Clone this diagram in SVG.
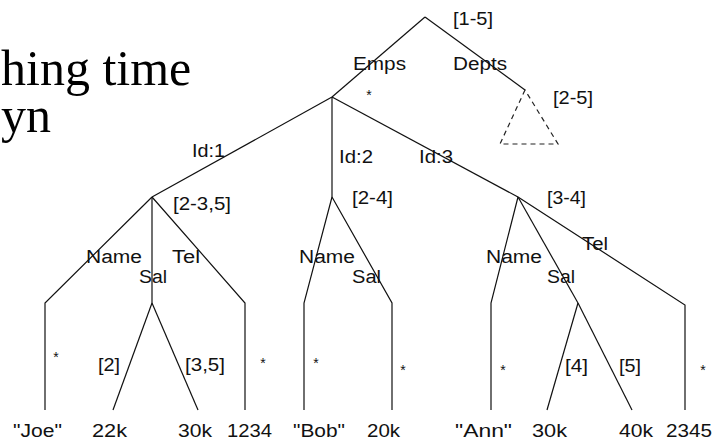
<svg xmlns="http://www.w3.org/2000/svg" width="714" height="442" viewBox="0 0 714 442">
<style>
.e{fill:none;stroke:#111;stroke-width:1.2}
.d{fill:none;stroke:#222;stroke-width:1.2;stroke-dasharray:5,4}
.t{font-family:"Liberation Sans",Arial,sans-serif;font-size:18px;fill:#111}
.s{font-family:"Liberation Sans",Arial,sans-serif;font-size:14px;fill:#111;text-anchor:middle}
.big{font-family:"Liberation Serif","Times New Roman",serif;font-size:50px;fill:#000}
</style>
<rect width="714" height="442" fill="#fff"/>
<g id="title">
<text class="big" x="1" y="85">hing time</text>
<text class="big" x="1" y="132">yn</text>
</g>
<g id="connectors">
<line class="e" x1="425" y1="17" x2="332" y2="97"/>
<line class="e" x1="425" y1="17" x2="525" y2="90"/>
<path class="d" d="M525 90 L500 144 L558 144 Z"/>
<line class="e" x1="332" y1="97" x2="152" y2="197"/>
<line class="e" x1="332" y1="97" x2="332" y2="197"/>
<line class="e" x1="332" y1="97" x2="518" y2="197"/>
<polyline class="e" points="152,197 45,303 45,410"/>
<line class="e" x1="152" y1="197" x2="152" y2="303"/>
<line class="e" x1="152" y1="303" x2="113" y2="410"/>
<line class="e" x1="152" y1="303" x2="198" y2="410"/>
<polyline class="e" points="152,197 245,303 245,410"/>
<polyline class="e" points="332,197 304,303 304,410"/>
<polyline class="e" points="332,197 392,303 392,410"/>
<polyline class="e" points="518,197 491,303 491,410"/>
<line class="e" x1="518" y1="197" x2="578" y2="303"/>
<line class="e" x1="578" y1="303" x2="547" y2="410"/>
<line class="e" x1="578" y1="303" x2="632" y2="410"/>
<polyline class="e" points="518,197 685,305 685,410"/>
</g>
<g id="root">
<text class="t" x="453" y="25" textLength="40" lengthAdjust="spacingAndGlyphs">[1-5]</text>
</g>
<g id="emps">
<text class="t" x="353" y="70" textLength="53" lengthAdjust="spacingAndGlyphs">Emps</text>
<text class="s" x="369" y="100">*</text>
</g>
<g id="depts">
<text class="t" x="453" y="70" textLength="54" lengthAdjust="spacingAndGlyphs">Depts</text>
<text class="t" x="553" y="104" textLength="40" lengthAdjust="spacingAndGlyphs">[2-5]</text>
</g>
<g id="id1">
<text class="t" x="192" y="157" textLength="33" lengthAdjust="spacingAndGlyphs">Id:1</text>
<text class="t" x="173" y="210" textLength="58" lengthAdjust="spacingAndGlyphs">[2-3,5]</text>
</g>
<g id="id2">
<text class="t" x="339" y="163" textLength="34" lengthAdjust="spacingAndGlyphs">Id:2</text>
<text class="t" x="352" y="204" textLength="41" lengthAdjust="spacingAndGlyphs">[2-4]</text>
</g>
<g id="id3">
<text class="t" x="419" y="163" textLength="34" lengthAdjust="spacingAndGlyphs">Id:3</text>
<text class="t" x="547" y="204" textLength="39" lengthAdjust="spacingAndGlyphs">[3-4]</text>
</g>
<g id="name1">
<text class="t" x="86" y="263" textLength="56" lengthAdjust="spacingAndGlyphs">Name</text>
<text class="s" x="56" y="362">*</text>
<text class="t" x="13" y="437" textLength="49" lengthAdjust="spacingAndGlyphs">"Joe"</text>
</g>
<g id="sal1">
<text class="t" x="139" y="283" textLength="28" lengthAdjust="spacingAndGlyphs">Sal</text>
<text class="t" x="98" y="371" textLength="22" lengthAdjust="spacingAndGlyphs">[2]</text>
<text class="t" x="185" y="371" textLength="40" lengthAdjust="spacingAndGlyphs">[3,5]</text>
<text class="t" x="92" y="437" textLength="35" lengthAdjust="spacingAndGlyphs">22k</text>
<text class="t" x="178" y="437" textLength="34" lengthAdjust="spacingAndGlyphs">30k</text>
</g>
<g id="tel1">
<text class="t" x="172" y="263" textLength="28" lengthAdjust="spacingAndGlyphs">Tel</text>
<text class="s" x="263" y="368">*</text>
<text class="t" x="227" y="437" textLength="45" lengthAdjust="spacingAndGlyphs">1234</text>
</g>
<g id="name2">
<text class="t" x="299" y="263" textLength="56" lengthAdjust="spacingAndGlyphs">Name</text>
<text class="s" x="316" y="368">*</text>
<text class="t" x="293" y="437" textLength="52" lengthAdjust="spacingAndGlyphs">"Bob"</text>
</g>
<g id="sal2">
<text class="t" x="352" y="283" textLength="29" lengthAdjust="spacingAndGlyphs">Sal</text>
<text class="s" x="403" y="375">*</text>
<text class="t" x="367" y="437" textLength="33" lengthAdjust="spacingAndGlyphs">20k</text>
</g>
<g id="name3">
<text class="t" x="486" y="263" textLength="56" lengthAdjust="spacingAndGlyphs">Name</text>
<text class="s" x="503" y="375">*</text>
<text class="t" x="455" y="437" textLength="57" lengthAdjust="spacingAndGlyphs">"Ann"</text>
</g>
<g id="sal3">
<text class="t" x="547" y="283" textLength="28" lengthAdjust="spacingAndGlyphs">Sal</text>
<text class="t" x="565" y="372" textLength="23" lengthAdjust="spacingAndGlyphs">[4]</text>
<text class="t" x="619" y="372" textLength="22" lengthAdjust="spacingAndGlyphs">[5]</text>
<text class="t" x="532" y="437" textLength="35" lengthAdjust="spacingAndGlyphs">30k</text>
<text class="t" x="619" y="437" textLength="34" lengthAdjust="spacingAndGlyphs">40k</text>
</g>
<g id="tel3">
<text class="t" x="582" y="250" textLength="26" lengthAdjust="spacingAndGlyphs">Tel</text>
<text class="s" x="703" y="375">*</text>
<text class="t" x="666" y="437" textLength="46" lengthAdjust="spacingAndGlyphs">2345</text>
</g>
</svg>
